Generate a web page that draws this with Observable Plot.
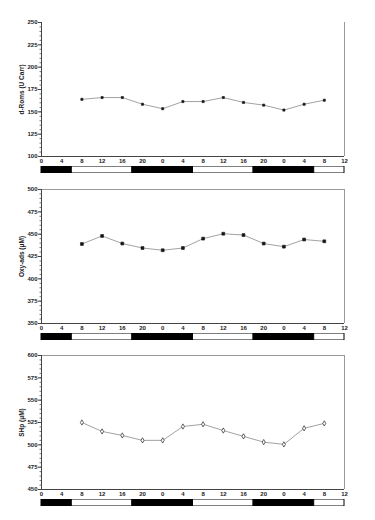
<!DOCTYPE html>
<html>
<head>
<meta charset="utf-8">
<script src="https://cdn.jsdelivr.net/npm/d3@7"></script>
<script src="https://cdn.jsdelivr.net/npm/@observablehq/plot@0.6"></script>
<style>
  html, body { margin: 0; padding: 0; background: #fff; }
  #root { width: 375px; }
  #root svg { display: block; }
</style>
</head>
<body>
<div id="root"></div>
<script>
// ---- data ----
const hours = [8, 12, 16, 20, 24, 28, 32, 36, 40, 44, 48, 52, 56];
const droms = [164, 166, 166, 158.5, 153.5, 161.5, 161.5, 166, 160.5, 157.5, 152, 158.5, 163];
const oxyads = [439, 448, 439.5, 434.5, 432, 434.5, 445, 450.5, 449, 439.5, 436, 444, 442];
const shp = [525, 515, 510.5, 505, 505, 520.5, 523, 516, 509.5, 503, 500.5, 518.5, 524];

const xTicks = [0, 4, 8, 12, 16, 20, 24, 28, 32, 36, 40, 44, 48, 52, 56, 60];
const phaseStart = [0, 6, 18, 30, 42, 54];
const phaseEnd = [6, 18, 30, 42, 54, 60];
const phaseName = ["dark", "light", "dark", "light", "dark", "light"];

const panels = [
  {label: "d-Roms (U Carr)", values: droms, domain: [100, 250], yTicks: [100, 125, 150, 175, 200, 225, 250],
   symbol: "square", fill: "#111", r: 1.2, top: false, marginTop: 22},
  {label: "Oxy-ads (\u03bcM)", values: oxyads, domain: [350, 500], yTicks: [350, 375, 400, 425, 450, 475, 500],
   symbol: "square", fill: "#111", r: 1.6, top: true, marginTop: 16},
  {label: "SHp (\u03bcM)", values: shp, domain: [450, 600], yTicks: [450, 475, 500, 525, 550, 575, 600],
   symbol: "diamond", fill: "white", r: 1.6, top: true, marginTop: 15}
];

const phases = phaseStart.map((s, i) => ({x1: s, x2: phaseEnd[i], phase: phaseName[i]}));
const root = document.getElementById("root");
const font = {fontFamily: "'Liberation Sans', Arial, sans-serif", fontSize: "6px", fontWeight: "bold", background: "white", color: "#222"};

for (const p of panels) {
  const data = hours.map((h, i) => ({h, v: p.values[i]}));
  const frameMarks = [Plot.ruleX([60], {stroke: "#999", strokeWidth: 1})];
  if (p.top) frameMarks.push(Plot.ruleY([p.domain[1]], {stroke: "#999", strokeWidth: 1}));
  const chart = Plot.plot({
    width: 375,
    height: p.marginTop + 134 + 10,
    marginLeft: 41,
    marginRight: 31,
    marginTop: p.marginTop,
    marginBottom: 10,
    style: font,
    x: {domain: [0, 60]},
    y: {domain: p.domain},
    marks: [
      ...frameMarks,
      Plot.axisY({interval: 5, tickSize: 1.5, text: null, label: null, stroke: "#777"}),
      Plot.axisY({ticks: p.yTicks, tickSize: 3, tickPadding: 1, label: null, stroke: "#444"}),
      Plot.text([p.label], {frameAnchor: "left", textAnchor: "middle", rotate: -90, dx: -20, fontSize: 6.5, fontWeight: "bold"}),
      Plot.axisX({ticks: xTicks, tickSize: 0, tickPadding: 2, tickFormat: d => d % 24, label: null}),
      Plot.ruleX([0], {stroke: "#444"}),
      Plot.ruleY([p.domain[0]], {stroke: "#444"}),
      Plot.line(data, {x: "h", y: "v", stroke: "#8a8a8a", strokeWidth: 0.8}),
      Plot.dot(data, {x: "h", y: "v", symbol: p.symbol, r: p.r, fill: p.fill, stroke: "#222", strokeWidth: 0.7})
    ]
  });
  root.appendChild(chart);
  const bar = Plot.plot({
    width: 375,
    height: 7,
    marginLeft: 41,
    marginRight: 31,
    marginTop: 0,
    marginBottom: 0,
    style: {background: "white"},
    x: {domain: [0, 60], axis: null},
    color: {domain: ["dark", "light"], range: ["#000", "#fff"]},
    marks: [
      Plot.rect(phases, {x1: "x1", x2: "x2", fill: "phase", stroke: "#000", strokeWidth: 1})
    ]
  });
  root.appendChild(bar);
}
</script>
</body>
</html>
